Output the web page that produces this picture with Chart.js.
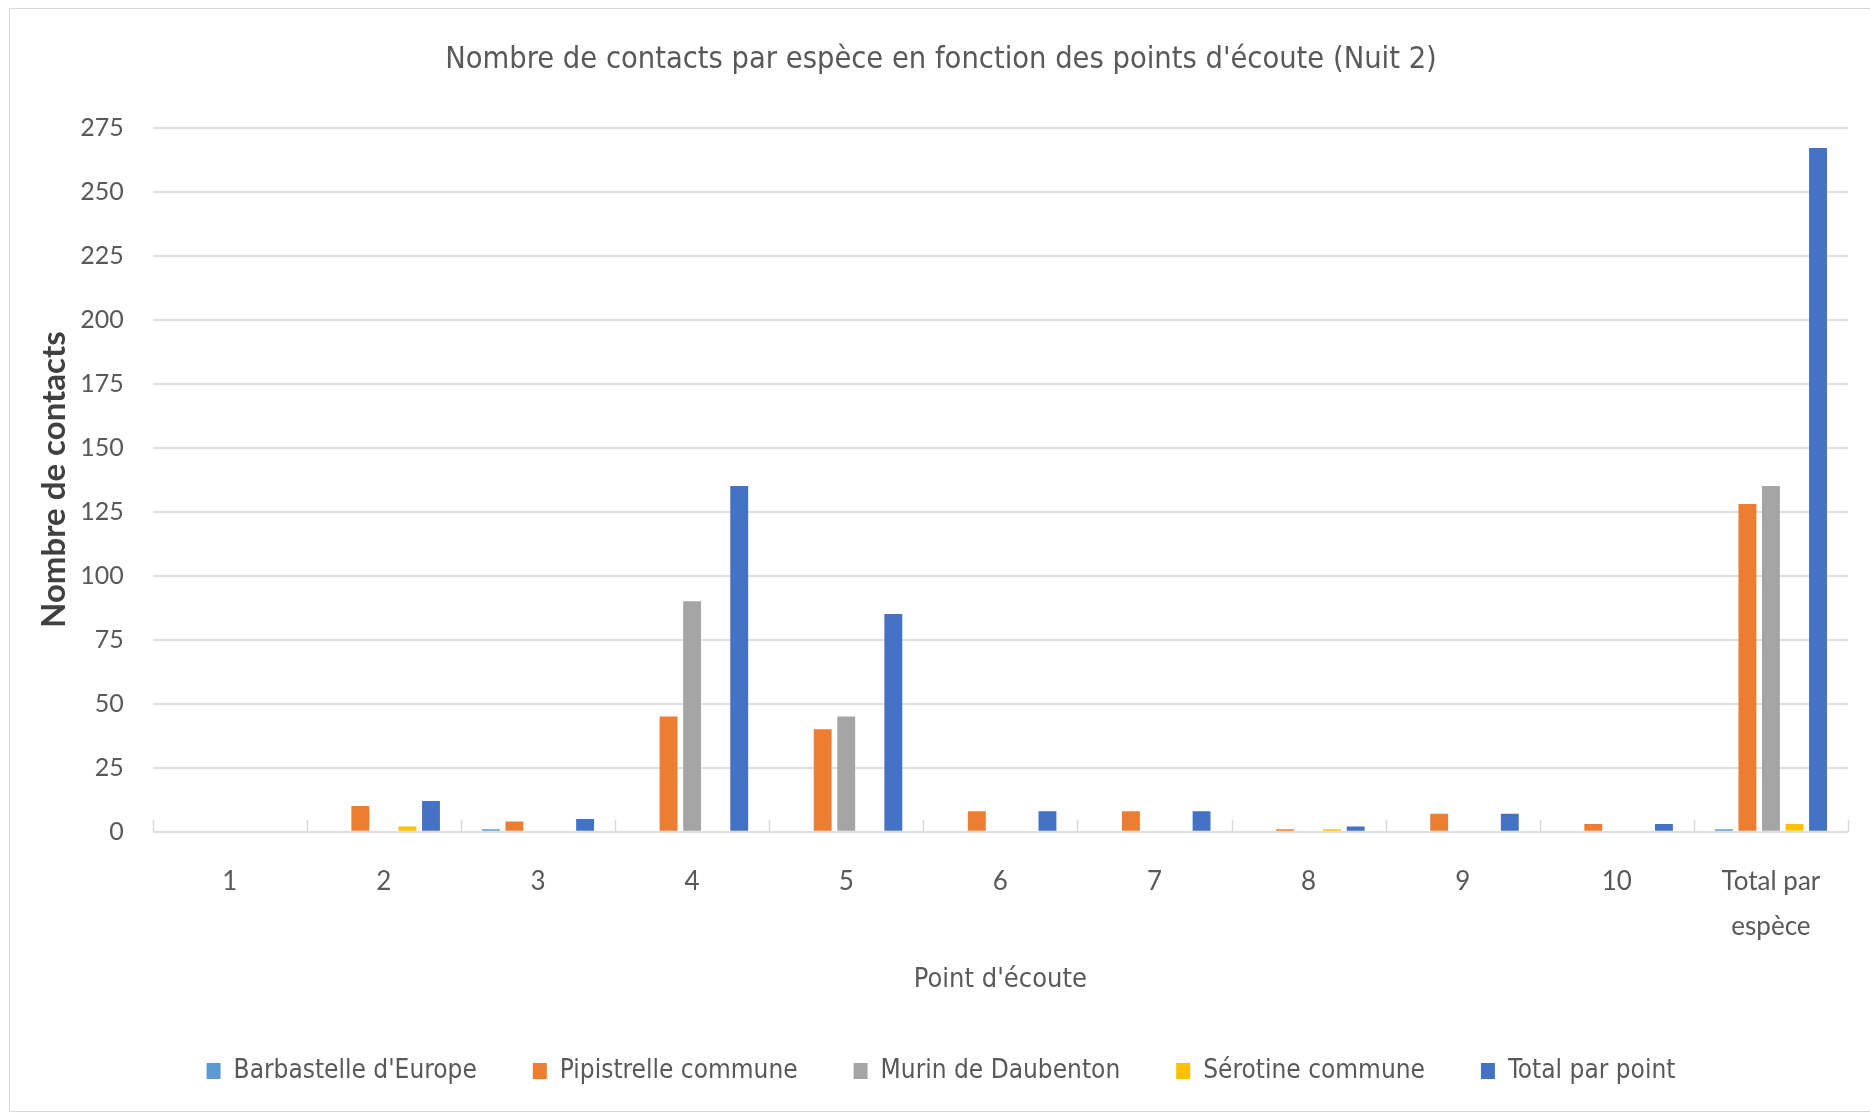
<!DOCTYPE html>
<html lang="fr">
<head>
<meta charset="utf-8">
<title>Nombre de contacts par espèce</title>
<script src="https://cdn.jsdelivr.net/npm/chart.js@4.4.1/dist/chart.umd.min.js"></script>
<style>
  html, body { margin: 0; padding: 0; background: #fff; }
  #wrap { position: relative; width: 1870px; height: 1118px; }
  #frame {
    position: absolute; left: 9px; top: 8px; width: 1870px; height: 1104px;
    border: 1px solid #d9d9d9; box-sizing: border-box; pointer-events: none;
  }
</style>
</head>
<body>
<div id="wrap">
  <canvas id="myChart" width="1870" height="1118"></canvas>
  <div id="frame"></div>
</div>
<script>
// Points d'écoute (nuit 2)
const categories = ['1', '2', '3', '4', '5', '6', '7', '8', '9', '10', ['Total par', 'espèce']];

const barbastelle = [0, 0, 1, 0, 0, 0, 0, 0, 0, 0, 1];
const pipistrelle = [0, 10, 4, 45, 40, 8, 8, 1, 7, 3, 128];
const murin       = [0, 0, 0, 90, 45, 0, 0, 0, 0, 0, 135];
const serotine    = [0, 2, 0, 0, 0, 0, 0, 1, 0, 0, 3];
const totalPoint  = [0, 12, 5, 135, 85, 8, 8, 2, 7, 3, 267];

const yMax = 275;
const yStep = 25;

const textGrey = '#595959';
const narrow = "'Liberation Sans Narrow', 'DejaVu Sans Condensed', 'Liberation Sans', sans-serif";
const body = "Lato, 'Open Sans', sans-serif";

// small tick marks between categories, pointing up from the baseline
const categoryTicks = {
  id: 'categoryTicks',
  afterDraw(chart) {
    const x = chart.scales.x;
    const y = chart.scales.y;
    const ctx = chart.ctx;
    const base = y.getPixelForValue(0);
    const step = x.width / categories.length;
    ctx.save();
    ctx.strokeStyle = '#d9d9d9';
    ctx.lineWidth = 1.5;
    for (let i = 0; i <= categories.length; i++) {
      const px = Math.round(x.left + i * step) + 0.5;
      ctx.beginPath();
      ctx.moveTo(px, base);
      ctx.lineTo(px, base - 12);
      ctx.stroke();
    }
    ctx.restore();
  }
};

const ctx = document.getElementById('myChart').getContext('2d');
const data = {
  labels: categories,
  datasets: [
    { label: "Barbastelle d'Europe", data: barbastelle, backgroundColor: '#5B9BD5' },
    { label: 'Pipistrelle commune', data: pipistrelle, backgroundColor: '#ED7D31' },
    { label: 'Murin de Daubenton', data: murin, backgroundColor: '#A5A5A5' },
    { label: 'Sérotine commune', data: serotine, backgroundColor: '#FFC000' },
    { label: 'Total par point', data: totalPoint, backgroundColor: '#4472C4' }
  ]
};

const myChart = new Chart(ctx, {
  type: 'bar',
  data: data,
  plugins: [categoryTicks],
  options: {
    responsive: false,
    animation: false,
    devicePixelRatio: 1,
    layout: { padding: { top: 10, left: 34, right: 22, bottom: 24 } },
    datasets: {
      bar: { categoryPercentage: 0.764, barPercentage: 0.76 }
    },
    plugins: {
      tooltip: { enabled: false },
      title: {
        display: true,
        text: "Nombre de contacts par espèce en fonction des points d'écoute (Nuit 2)",
        color: textGrey,
        font: { family: narrow, size: 30.5, weight: 'normal', lineHeight: 1.2 },
        padding: { top: 31.7, bottom: 49.3 }
      },
      legend: {
        display: true,
        position: 'bottom',
        labels: {
          color: textGrey,
          font: { family: narrow, size: 26 },
          boxWidth: 14,
          boxHeight: 16,
          padding: 56
        }
      }
    },
    scales: {
      x: {
        grid: { display: false, drawTicks: false },
        border: { display: false },
        ticks: {
          color: textGrey,
          font: { family: body, size: 26, lineHeight: 1.73 },
          padding: 27,
          maxRotation: 0,
          autoSkip: false
        },
        title: {
          display: true,
          text: "Point d'écoute",
          color: textGrey,
          font: { family: narrow, size: 27, lineHeight: 1.2 },
          padding: { top: 10, bottom: 5.8 }
        },
        afterFit: (scale) => { scale.height = 170.3; }
      },
      y: {
        min: 0,
        max: yMax,
        grid: { color: '#dedede', lineWidth: 2, drawTicks: false },
        border: { display: false },
        ticks: {
          stepSize: yStep,
          color: textGrey,
          font: { family: body, size: 25 },
          padding: 29
        },
        title: {
          display: true,
          text: 'Nombre de contacts',
          color: '#404040',
          font: { family: body, size: 33, weight: 'bold', lineHeight: 1.2 },
          padding: { top: 1, bottom: 4 }
        },
        afterFit: (scale) => { scale.width = 118.7; }
      }
    }
  }
});
</script>
</body>
</html>
